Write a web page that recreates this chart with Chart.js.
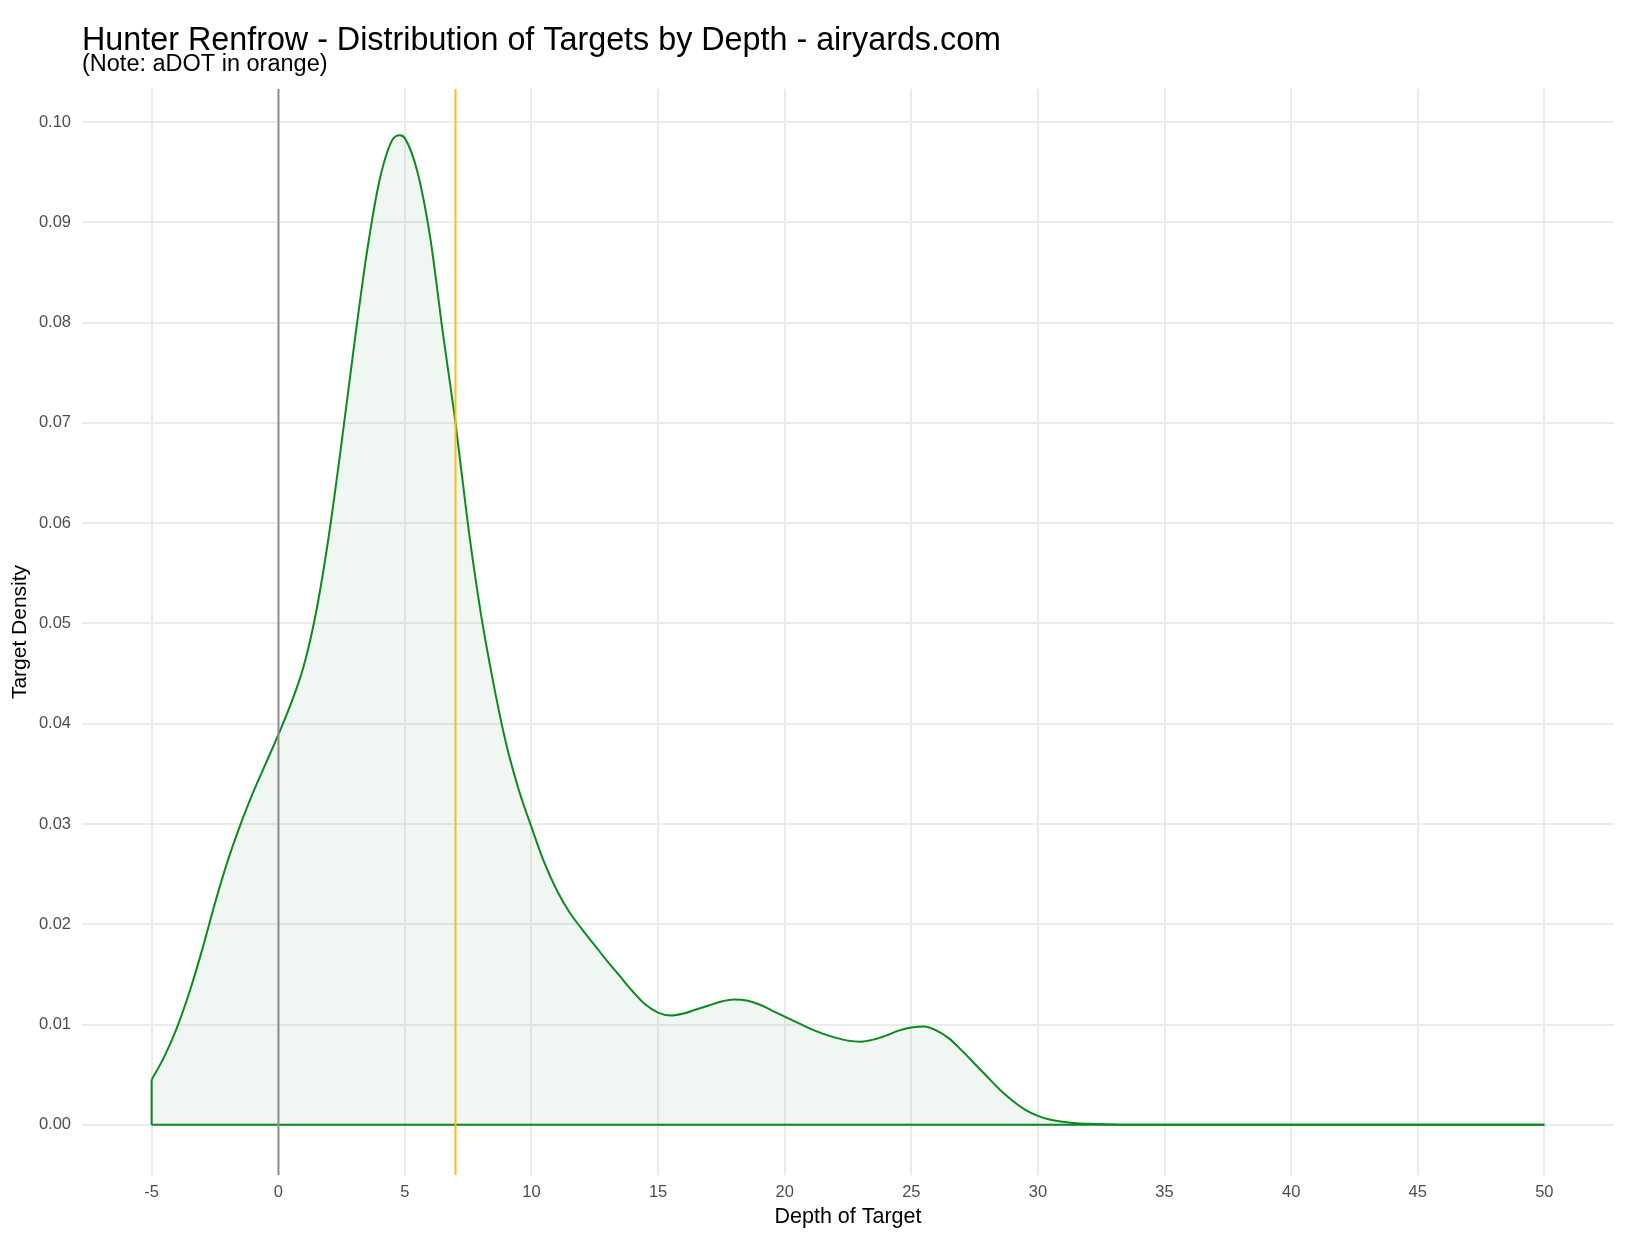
<!DOCTYPE html>
<html>
<head>
<meta charset="utf-8">
<title>Hunter Renfrow - Distribution of Targets by Depth</title>
<script src="https://cdn.jsdelivr.net/npm/chart.js@4.4.1/dist/chart.umd.min.js"></script>
<style>
    html, body { margin: 0; padding: 0; background: #ffffff; }
    #wrap { width: 1626px; height: 1240px; }
</style>
</head>
<body>
<div id="wrap"><canvas id="densityChart" width="1626" height="1240"></canvas></div>
<script>
// Depth of target (yards) and the estimated density
const depthX = [
    -5, -4.5, -4, -3.5, -3, -2.5, -2, -1.5, -1, -0.5,
    0, 0.5, 1, 1.5, 2, 2.5, 3, 3.5, 4, 4.5,
    4.8, 5, 5.5, 6, 6.5, 7, 7.5, 8, 8.5, 9,
    9.5, 10, 10.5, 11, 11.5, 12, 12.5, 13, 13.5, 14,
    14.5, 15, 15.5, 16, 16.5, 17, 17.5, 18, 18.5, 19,
    19.5, 20, 20.5, 21, 21.5, 22, 22.5, 23, 23.5, 24,
    24.5, 25, 25.5, 26, 26.5, 27, 27.5, 28, 28.5, 29,
    29.5, 30, 30.5, 31, 31.5, 32, 33, 34, 40, 50
];
const densityY = [
    0.0045, 0.0068, 0.0097, 0.0133, 0.0175, 0.0221, 0.0263, 0.0299, 0.0331, 0.0360,
    0.0389, 0.0420, 0.0457, 0.0512, 0.0588, 0.0680, 0.0778, 0.0870, 0.0942, 0.0982,
    0.0987, 0.0984, 0.0950, 0.0885, 0.0790, 0.0700, 0.0597, 0.0510, 0.0440, 0.0380,
    0.0334, 0.0297, 0.0262, 0.0234, 0.0212, 0.0195, 0.0179, 0.0163, 0.0148, 0.0133,
    0.0120, 0.0112, 0.0109, 0.0111, 0.0115, 0.0119, 0.0123, 0.0125, 0.0124, 0.0120,
    0.0114, 0.0108, 0.0102, 0.0096, 0.0091, 0.0087, 0.0084, 0.0083, 0.0085, 0.0089,
    0.0094, 0.0097, 0.0098, 0.0094, 0.0086, 0.0074, 0.0061, 0.0048, 0.0035, 0.0024,
    0.0015, 0.0009, 0.0005, 0.0003, 0.00015, 0.0001, 0.00003, 0, 0, 0
];
const xTicks = [-5, 0, 5, 10, 15, 20, 25, 30, 35, 40, 45, 50];
const yTicks = [0, 0.01, 0.02, 0.03, 0.04, 0.05, 0.06, 0.07, 0.08, 0.09, 0.10];
const zeroLine = [0];
const adot = [6.97];

const titleText = 'Hunter Renfrow - Distribution of Targets by Depth - airyards.com';
const subtitleText = '(Note: aDOT in orange)';

const FONT = '"Liberation Sans", Arial, Helvetica, sans-serif';
const CURVE_GREEN = '#0b8a1f';

document.addEventListener('DOMContentLoaded', function() {
    if (typeof Chart === 'undefined') {
        console.error('Chart.js not loaded');
        return;
    }
    setupDensityChart();
});

/**
 * Vertical reference lines (x = 0 and the aDOT) spanning the whole panel
 */
const vlinePlugin = {
    id: 'vlines',
    afterDatasetsDraw(chart) {
        const {ctx, chartArea, scales} = chart;
        const lines = [
            {values: zeroLine, color: '#8f8f8f'},
            {values: adot, color: '#ffb90f'}
        ];
        ctx.save();
        lines.forEach(l => {
            l.values.forEach(v => {
                const px = Math.round(scales.x.getPixelForValue(v)) + 0.5;
                ctx.strokeStyle = l.color;
                ctx.lineWidth = 2;
                ctx.beginPath();
                ctx.moveTo(px, chartArea.top);
                ctx.lineTo(px, chartArea.bottom);
                ctx.stroke();
            });
        });
        ctx.restore();
    }
};

/**
 * Left-aligned title + subtitle like ggplot's plot.title
 */
const headerPlugin = {
    id: 'header',
    afterDraw(chart) {
        const {ctx, chartArea} = chart;
        ctx.save();
        ctx.fillStyle = '#000000';
        ctx.textAlign = 'left';
        ctx.textBaseline = 'alphabetic';
        ctx.font = '32.3px ' + FONT;
        ctx.fillText(titleText, chartArea.left, 50);
        ctx.font = '23.5px ' + FONT;
        ctx.fillText(subtitleText, chartArea.left, 71);
        ctx.restore();
    }
};

function setupDensityChart() {
    const canvas = document.getElementById('densityChart');
    const points = depthX.map((x, i) => ({x: x, y: densityY[i]}));
    const last = depthX.length - 1;

    const data = {
        datasets: [
            {
                // density curve with light fill
                data: points,
                borderColor: CURVE_GREEN,
                borderWidth: 2,
                backgroundColor: 'rgba(0, 110, 40, 0.06)',
                fill: 'origin',
                pointRadius: 0,
                cubicInterpolationMode: 'monotone'
            },
            {
                // left edge of the density polygon
                data: [{x: depthX[0], y: 0}, {x: depthX[0], y: densityY[0]}],
                borderColor: CURVE_GREEN,
                borderWidth: 2,
                pointRadius: 0,
                fill: false
            },
            {
                // bottom edge of the density polygon
                data: [{x: depthX[0], y: 0}, {x: depthX[last], y: 0}],
                borderColor: CURVE_GREEN,
                borderWidth: 2,
                pointRadius: 0,
                fill: false
            }
        ]
    };

    const config = {
        type: 'line',
        data: data,
        plugins: [vlinePlugin, headerPlugin],
        options: {
            responsive: false,
            animation: false,
            layout: {
                padding: {top: 89, right: 12, bottom: 0, left: 0}
            },
            scales: {
                x: {
                    type: 'linear',
                    min: -7.75,
                    max: 52.75,
                    afterBuildTicks: scale => { scale.ticks = xTicks.map(v => ({value: v})); },
                    afterFit: scale => { scale.height = 65; },
                    grid: {color: '#ebebeb', lineWidth: 2, drawTicks: false},
                    border: {display: false},
                    ticks: {
                        color: '#4d4d4d',
                        padding: 8,
                        maxRotation: 0,
                        font: {family: FONT, size: 16.5},
                        callback: v => String(v)
                    },
                    title: {
                        display: true,
                        text: 'Depth of Target',
                        color: '#000000',
                        font: {family: FONT, size: 21.5},
                        padding: {top: 0, bottom: 10}
                    }
                },
                y: {
                    type: 'linear',
                    min: -0.005,
                    max: 0.1033,
                    afterBuildTicks: scale => { scale.ticks = yTicks.map(v => ({value: v})); },
                    afterFit: scale => { scale.width = 82; },
                    grid: {color: '#ebebeb', lineWidth: 2, drawTicks: false},
                    border: {display: false},
                    ticks: {
                        color: '#4d4d4d',
                        padding: 11,
                        font: {family: FONT, size: 16.5},
                        callback: v => v.toFixed(2)
                    },
                    title: {
                        display: true,
                        text: 'Target Density',
                        color: '#000000',
                        font: {family: FONT, size: 21},
                        padding: {top: 8, bottom: 0}
                    }
                }
            },
            plugins: {
                legend: {display: false},
                tooltip: {enabled: false}
            }
        }
    };

    try {
        new Chart(canvas, config);
    } catch (error) {
        console.error('Failed to create density chart:', error);
    }
}
</script>
</body>
</html>
